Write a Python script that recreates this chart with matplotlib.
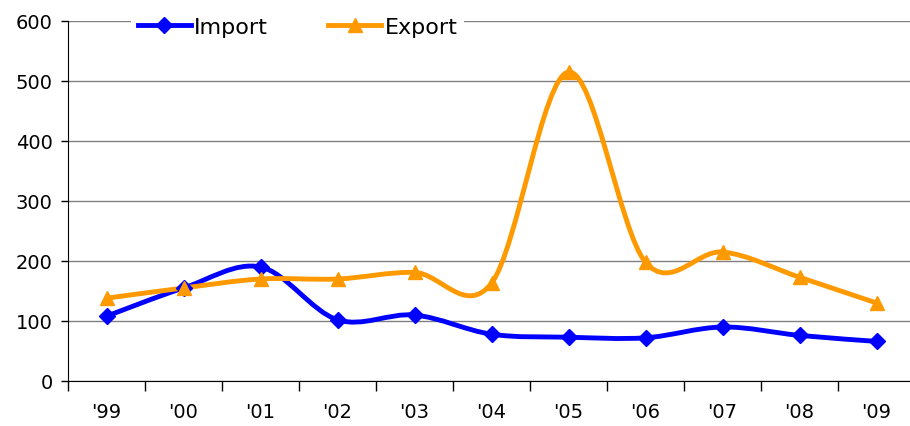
import numpy as np
import matplotlib
matplotlib.use('Agg')
import matplotlib.pyplot as plt
from matplotlib.path import Path
from matplotlib.patches import PathPatch

# datos
anios = ["'99", "'00", "'01", "'02", "'03", "'04", "'05", "'06", "'07", "'08", "'09"]
importacion = [108, 155, 190, 102, 110, 78, 73, 72, 90, 76, 66]
exportacion = [138, 155, 170, 170, 181, 163, 515, 198, 215, 173, 130]

azul = '#0000FF'
naranja = '#FF9900'


def curva_suave(x, y):
    """Camino Bezier tipo Catmull-Rom (linea suavizada estilo Excel)"""
    p = np.column_stack([x, y]).astype(float)
    n = len(p)
    verts = [p[0]]
    codes = [Path.MOVETO]
    for i in range(n - 1):
        p0 = p[i - 1] if i > 0 else p[i]
        p1 = p[i]
        p2 = p[i + 1]
        p3 = p[i + 2] if i + 2 < n else p[i + 1]
        c1 = p1 + (p2 - p0) / 6
        c2 = p2 - (p3 - p1) / 6
        verts += [c1, c2, p2]
        codes += [Path.CURVE4] * 3
    return Path(verts, codes)


plt.rcParams['font.family'] = ['DejaVu Sans']

fig = plt.figure(figsize=(9.1, 4.27), dpi=100)
ax = fig.add_axes([68 / 910, 45 / 427, 847 / 910, 360 / 427])

x = np.arange(len(anios))
for serie, color, marcador, ms, nombre in [
        (importacion, azul, 'D', 8.5, 'Import'),
        (exportacion, naranja, '^', 10.5, 'Export')]:
    ax.add_patch(PathPatch(curva_suave(x, serie), facecolor='none',
                           edgecolor=color, lw=3.5, zorder=3,
                           capstyle='round', joinstyle='round'))
    ax.plot(x, serie, linestyle='none', marker=marcador, color=color,
            markersize=ms, zorder=4)
    # entrada de leyenda
    ax.plot([], [], color=color, lw=3.5, marker=marcador, markersize=ms,
            label=nombre)

ax.set_xlim(-0.5, len(anios) - 0.5)
ax.set_ylim(0, 600)
ax.set_yticks(np.arange(0, 601, 100))
ax.set_xticks(x)
ax.set_xticklabels(anios)
ax.set_xticks(np.arange(-0.5, len(anios), 1), minor=True)
ax.tick_params(axis='x', which='major', length=0, pad=15, labelsize=14)
ax.tick_params(axis='x', which='minor', length=7, width=1, direction='out')
ax.tick_params(axis='y', length=5, width=1, labelsize=14, pad=6)

ax.grid(axis='y', color='#808080', lw=1)
ax.set_axisbelow(True)
for lado in ['top', 'right']:
    ax.spines[lado].set_visible(False)
ax.spines['left'].set_color('black')
ax.spines['bottom'].set_color('black')

leg = fig.legend(loc='center', bbox_to_anchor=(0.327, 0.934), ncol=2,
                 fontsize=16, frameon=True, facecolor='white',
                 edgecolor='none', framealpha=1, handlelength=2.4,
                 columnspacing=2.7, handletextpad=0.15, borderpad=0.3,
                 borderaxespad=0)
leg.set_zorder(10)

plt.savefig('out.png', dpi=100)
